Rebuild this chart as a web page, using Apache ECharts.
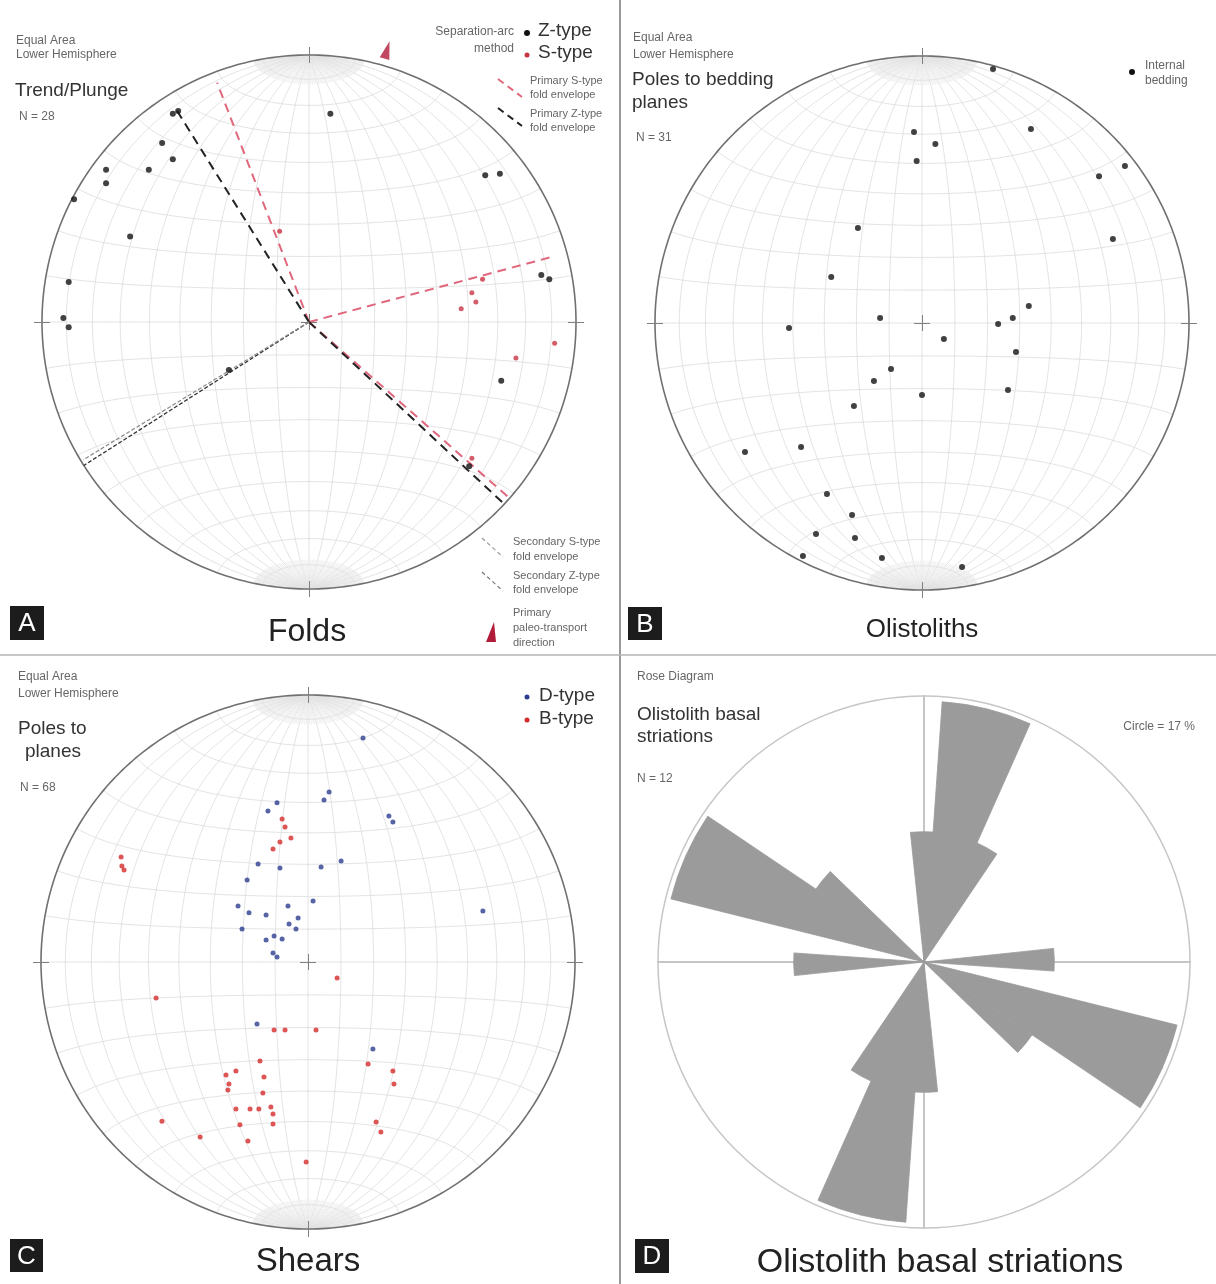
<!DOCTYPE html>
<html>
<head>
<meta charset="utf-8">
<script src="https://cdn.jsdelivr.net/npm/echarts@6/dist/echarts.min.js"></script>
<style>
html, body { margin: 0; padding: 0; background: #fff; }
#chart { width: 1216px; height: 1284px; }
</style>
</head>
<body>
<div id="chart"></div>
<script>
// Net coordinates: x = east, y = north, 100 = primitive circle radius.

// A - fold axes
const foldZType = [[-51, 78], [-49, 79], [-55, 67], [-51, 61], [-76, 57], [-76, 52], [-60, 57], [-88, 46],
	[-67, 32], [-90, 15], [-92, 1.5], [-90, -2], [8, 78], [66, 55], [71.5, 55.5], [87, 17.6], [90, 16],
	[72, -22], [60, -54], [-30, -18]];
const foldSType = [[-11, 34], [65, 16], [61, 11], [62.5, 7.5], [57, 5], [77.5, -13.5], [92, -8], [61, -51]];

// fold envelopes: azimuth (deg) and length (net units) from the centre
const primarySAz = [339, 75, 131.3];
const primarySLen = [96, 95, 99];
const primaryZAz = [328, 133];
const primaryZLen = [94, 99];
const secondaryAz = [237.5, 238.6];
const secondaryLen = [100, 99];
const transportAz = 16;
const transportR = 106;

// B - poles to bedding
const bedding = [[26.6, 95.1], [-3, 71.5], [5, 67], [-2, 60.7], [40.8, 72.7], [66.3, 55], [76, 58.8], [71.5, 31.5],
	[-24, 35.6], [-34, 17.2], [-15.7, 1.9], [-49.8, -1.9], [40, 6.4], [34, 1.9], [28.5, -0.4], [8.2, -6],
	[35.2, -10.9], [-11.6, -17.2], [-18, -21.7], [0, -27], [32.2, -25.1], [-25.5, -31.1], [-66.3, -48.3],
	[-45.3, -46.4], [-35.6, -64], [-26.2, -71.9], [-39.7, -79], [-25.1, -80.5], [-44.6, -87.3], [-15, -88],
	[15, -91.4]];

// C - poles to shear planes
const shearD = [[-11.6, 59.6], [-15, 56.6], [-18.7, 36.7], [-10.5, 35.2], [-22.8, 30.7], [-26.2, 21], [-22.1, 18.4],
	[-15.7, 17.6], [-7.5, 21], [-3.7, 16.5], [-7.1, 14.2], [-4.5, 12.4], [-24.7, 12.4], [-12.7, 9.7], [-9.7, 8.6],
	[-15.7, 8.2], [-13.1, 3.4], [-11.6, 1.9], [20.6, 83.9], [7.9, 63.7], [6, 60.7], [30.3, 54.7], [31.8, 52.4],
	[12.4, 37.8], [4.9, 35.6], [1.9, 22.8], [65.5, 19.1], [-19.1, -23.2], [24.3, -32.6]];
const shearB = [[-70, 39.3], [-69.7, 36], [-68.9, 34.5], [-9.7, 53.6], [-8.6, 50.6], [-6.4, 46.4], [-10.5, 44.9],
	[-13.1, 42.3], [10.9, -6], [-56.9, -13.5], [-12.7, -25.5], [-8.6, -25.5], [3, -25.5], [22.5, -38.2],
	[31.8, -40.8], [32.2, -45.7], [-18, -37.1], [-27, -40.8], [-30.7, -42.3], [-29.6, -45.7], [-30, -47.9],
	[-16.5, -43.1], [-16.9, -49.1], [-27, -55.1], [-21.7, -55.1], [-18.4, -55.1], [-13.9, -54.3], [-13.1, -56.9],
	[-13.1, -60.7], [-25.5, -61], [-22.5, -67], [-54.7, -59.6], [-40.4, -65.5], [25.5, -59.9], [27.3, -63.7],
	[-0.7, -74.9]];

// D - rose diagram, 10 degree bins centred on the label, percent of N = 12
const roseBins = ['0', '10', '20', '30', '40', '50', '60', '70', '80', '90', '100', '110', '120', '130', '140', '150', '160', '170',
	'180', '190', '200', '210', '220', '230', '240', '250', '260', '270', '280', '290', '300', '310', '320', '330', '340', '350'];
const rosePercent = [8.33, 16.67, 16.67, 8.33, 0, 0, 0, 0, 0, 8.33, 0, 16.67, 16.67, 8.33, 0, 0, 0, 0,
	8.33, 16.67, 16.67, 8.33, 0, 0, 0, 0, 0, 8.33, 0, 16.67, 16.67, 8.33, 0, 0, 0, 0];
const roseMax = 17;

const FONT = 'Liberation Sans, Arial, sans-serif';

// Schmidt (equal-area) net, poles at N and S
function project(lat, lon) {
	const p = lat * Math.PI / 180, l = lon * Math.PI / 180;
	const X = Math.cos(p) * Math.sin(l), Y = Math.sin(p), Z = Math.cos(p) * Math.cos(l);
	const h = Math.hypot(X, Y);
	if (h < 1e-9) return [0, 0];
	const r = Math.sqrt(Math.max(0, 1 - Z));
	return [100 * r * X / h, 100 * r * Y / h];
}

function trace(f, a0, a1, step) {
	const pts = [];
	for (let a = a0; a <= a1 + 1e-9; a += step) pts.push(f(a));
	return pts;
}

function buildNet() {
	const major = [], minor = [];
	for (let lon = -80; lon <= 80; lon += 10) major.push(trace(lat => project(lat, lon), -90, 90, 1));
	for (let lat = -80; lat <= 80; lat += 10) major.push(trace(lon => project(lat, lon), -90, 90, 2));
	for (let lon = -88; lon <= 88; lon += 2) {
		if (lon % 10 === 0) continue;
		minor.push(trace(lat => project(lat, lon), 78, 90, 1));
		minor.push(trace(lat => project(lat, lon), -90, -78, 1));
	}
	const rim = [trace(lat => project(lat, 90), -90, 90, 1), trace(lat => project(lat, -90), -90, 90, 1)];
	return { major, minor, rim };
}

const NET = buildNet();
const TICKS = [[[0, 97], [0, 103]], [[0, -97], [0, -103]], [[97, 0], [103, 0]], [[-97, 0], [-103, 0]],
	[[-3, 0], [3, 0]], [[0, -3], [0, 3]]];

function netSeries(gi) {
	const base = { type: 'lines', coordinateSystem: 'cartesian2d', xAxisIndex: gi, yAxisIndex: gi, silent: true, clip: false };
	return [
		Object.assign({}, base, { polyline: true, z: 1, lineStyle: { color: '#dcdcdc', width: 0.8, opacity: 1 },
			data: NET.major.map(c => ({ coords: c })) }),
		Object.assign({}, base, { polyline: true, z: 1, lineStyle: { color: '#e2e2e2', width: 0.6, opacity: 1 },
			data: NET.minor.map(c => ({ coords: c })) }),
		Object.assign({}, base, { polyline: true, z: 2, lineStyle: { color: '#707070', width: 1.6, opacity: 1 },
			data: NET.rim.map(c => ({ coords: c })) }),
		Object.assign({}, base, { polyline: false, z: 2, lineStyle: { color: '#808080', width: 1, opacity: 1 },
			data: TICKS.map(c => ({ coords: c })) })
	];
}

function rays(az, len) {
	return az.map((a, i) => {
		const t = a * Math.PI / 180;
		return { coords: [[0, 0], [len[i] * Math.sin(t), len[i] * Math.cos(t)]] };
	});
}

function envelope(az, len, color, width, dash) {
	return { type: 'lines', coordinateSystem: 'cartesian2d', xAxisIndex: 0, yAxisIndex: 0, silent: true, clip: false, z: 3,
		lineStyle: { color: color, width: width, type: dash, opacity: 1 }, data: rays(az, len) };
}

function dots(gi, data, color, size) {
	return { type: 'scatter', xAxisIndex: gi, yAxisIndex: gi, data: data, symbolSize: size, clip: false, silent: true, z: 5,
		itemStyle: { color: color } };
}

function txt(x, y, text, size, color, align) {
	return { type: 'text', x: x, y: y, silent: true, z: 10,
		style: { text: text, fontSize: size, fontFamily: FONT, fill: color || '#666',
			align: align || 'left', verticalAlign: 'middle', textAlign: align || 'left', textVerticalAlign: 'middle' } };
}

function box(x, y, w, h, letter) {
	return [
		{ type: 'rect', silent: true, z: 10, shape: { x: x, y: y, width: w, height: h }, style: { fill: '#1c1c1c' } },
		txt(x + w / 2, y + h / 2 + 1, letter, 26, '#fff', 'center')
	];
}

function seg(x1, y1, x2, y2, color, width, dash) {
	return { type: 'line', silent: true, z: 10, shape: { x1: x1, y1: y1, x2: x2, y2: y2 },
		style: { stroke: color, lineWidth: width, lineDash: dash || null } };
}

function dot(cx, cy, r, color) {
	return { type: 'circle', silent: true, z: 10, shape: { cx: cx, cy: cy, r: r }, style: { fill: color } };
}

const RED = '#c83444';
const PINK = '#e0677c';
const BLUE = '#2c3d8f';
const CRED = '#d42a2a';
const SMALL = 12;
const MID = 19;

const grids = [
	{ left: 42, top: 55, width: 534, height: 534 },
	{ left: 655, top: 56, width: 534, height: 534 },
	{ left: 41, top: 695, width: 534, height: 534 },
	{ left: 657, top: 695, width: 534, height: 534 }
];
const axis = grids.map((g, i) => ({ type: 'value', gridIndex: i, min: -100, max: 100, show: false }));

const ta = transportAz * Math.PI / 180;

const series = [].concat(
	netSeries(0), netSeries(1), netSeries(2),
	[
		envelope(primarySAz, primarySLen, PINK, 2, [9, 6]),
		envelope(primaryZAz, primaryZLen, '#222', 2, [9, 6]),
		envelope(secondaryAz.slice(0, 1), secondaryLen.slice(0, 1), '#333', 1.3, [4, 2]),
		envelope(secondaryAz.slice(1), secondaryLen.slice(1), '#8a8a8a', 1.2, [4, 2]),
		dots(0, foldZType, '#111', 6),
		dots(0, foldSType, RED, 5),
		{ type: 'scatter', xAxisIndex: 0, yAxisIndex: 0, clip: false, silent: true, z: 5,
			data: [[transportR * Math.sin(ta), transportR * Math.cos(ta)]],
			symbol: 'triangle', symbolSize: [10, 18], symbolRotate: -transportAz, itemStyle: { color: '#b01c3a' } },
		dots(1, bedding, '#111', 6),
		dots(2, shearD, BLUE, 5),
		dots(2, shearB, CRED, 5),
		{ type: 'lines', coordinateSystem: 'cartesian2d', xAxisIndex: 3, yAxisIndex: 3, silent: true, clip: false, z: 1,
			lineStyle: { color: '#c6c6c6', width: 2, opacity: 1 },
			data: [{ coords: [[0, -100], [0, 100]] }, { coords: [[-100, 0], [100, 0]] }] },
		{ type: 'bar', coordinateSystem: 'polar', data: rosePercent, barCategoryGap: '0%', silent: true, z: 3,
			itemStyle: { color: '#9b9b9b', borderColor: '#9b9b9b', borderWidth: 0.8 } }
	]
);

const graphic = [].concat(
	[
		seg(620, 0, 620, 1284, '#9a9a9a', 2),
		seg(0, 655, 1216, 655, '#b4b4b4', 1.5),

		// A
		txt(16, 41, 'Equal Area', SMALL), txt(16, 55, 'Lower Hemisphere', SMALL),
		txt(15, 91, 'Trend/Plunge', MID, '#333'),
		txt(19, 117, 'N = 28', SMALL),
		txt(514, 32, 'Separation-arc', SMALL, '#666', 'right'), txt(514, 49, 'method', SMALL, '#666', 'right'),
		dot(527, 33, 3, '#111'), txt(538, 31, 'Z-type', MID, '#333'),
		dot(527, 55, 2.5, RED), txt(538, 53, 'S-type', MID, '#333'),
		seg(498, 79, 522, 97, PINK, 2, [7, 5]),
		txt(530, 81, 'Primary S-type', 11), txt(530, 95, 'fold envelope', 11),
		seg(498, 108, 522, 126, '#222', 2, [7, 5]),
		txt(530, 114, 'Primary Z-type', 11), txt(530, 128, 'fold envelope', 11),
		seg(482, 538, 503, 557, '#999', 1.2, [4, 3]),
		txt(513, 542, 'Secondary S-type', 11), txt(513, 557, 'fold envelope', 11),
		seg(482, 572, 503, 591, '#777', 1.2, [4, 3]),
		txt(513, 576, 'Secondary Z-type', 11), txt(513, 590, 'fold envelope', 11),
		{ type: 'polygon', silent: true, z: 10, shape: { points: [[486, 642], [496, 642], [494, 622]] }, style: { fill: '#b01c3a' } },
		txt(513, 613, 'Primary', 11), txt(513, 628, 'paleo-transport', 11), txt(513, 643, 'direction', 11),
		txt(307, 632, 'Folds', 32, '#222', 'center'),

		// B
		txt(633, 38, 'Equal Area', SMALL), txt(633, 55, 'Lower Hemisphere', SMALL),
		txt(632, 80, 'Poles to bedding', MID, '#333'), txt(632, 103, 'planes', MID, '#333'),
		txt(636, 138, 'N = 31', SMALL),
		dot(1132, 72, 3, '#111'), txt(1145, 66, 'Internal', SMALL), txt(1145, 81, 'bedding', SMALL),
		txt(922, 630, 'Olistoliths', 26, '#222', 'center'),

		// C
		txt(18, 677, 'Equal Area', SMALL), txt(18, 694, 'Lower Hemisphere', SMALL),
		txt(18, 729, 'Poles to', MID, '#333'), txt(25, 752, 'planes', MID, '#333'),
		txt(20, 788, 'N = 68', SMALL),
		dot(527, 697, 2.5, BLUE), txt(539, 696, 'D-type', MID, '#333'),
		dot(527, 720, 2.5, CRED), txt(539, 719, 'B-type', MID, '#333'),
		txt(308, 1262, 'Shears', 33, '#222', 'center'),

		// D
		txt(637, 677, 'Rose Diagram', SMALL),
		txt(637, 715, 'Olistolith basal', MID, '#333'), txt(637, 737, 'striations', MID, '#333'),
		txt(637, 779, 'N = 12', SMALL),
		txt(1195, 727, 'Circle = 17 %', SMALL, '#666', 'right'),
		txt(940, 1263, 'Olistolith basal striations', 34, '#222', 'center')
	],
	box(10, 606, 34, 34, 'A'),
	box(628, 607, 34, 33, 'B'),
	box(10, 1239, 33, 33, 'C'),
	box(635, 1239, 34, 34, 'D')
);

const chart = echarts.init(document.getElementById('chart'), null, { renderer: 'canvas' });
chart.setOption({
	backgroundColor: '#fff',
	animation: false,
	grid: grids,
	xAxis: axis,
	yAxis: axis.map(a => Object.assign({}, a)),
	polar: { center: [924, 962], radius: 266 },
	angleAxis: {
		type: 'category', data: roseBins, startAngle: 96, clockwise: true, boundaryGap: true,
		axisLine: { show: true, lineStyle: { color: '#c6c6c6', width: 1.5 } },
		axisTick: { show: false }, axisLabel: { show: false }, splitLine: { show: false }, splitArea: { show: false }
	},
	radiusAxis: {
		type: 'value', min: 0, max: roseMax,
		axisLine: { show: false }, axisTick: { show: false }, axisLabel: { show: false }, splitLine: { show: false }
	},
	series: series,
	graphic: graphic
});
</script>
</body>
</html>
